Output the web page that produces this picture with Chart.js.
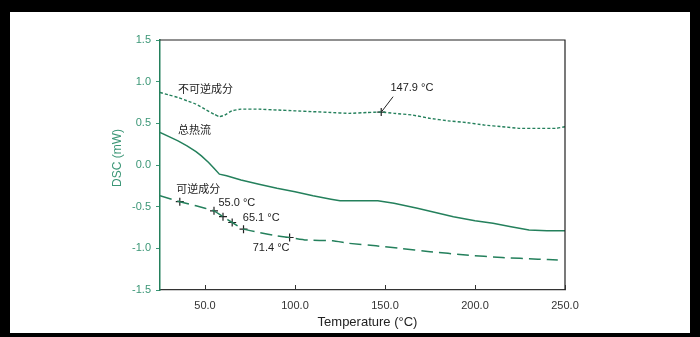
<!DOCTYPE html>
<html>
<head>
<meta charset="utf-8">
<script src="https://cdn.jsdelivr.net/npm/chart.js@4/dist/chart.umd.min.js"></script>
<style>
  body { margin: 0; background: #000; width: 700px; height: 337px; overflow: hidden; }
  #panel { position: absolute; left: 10px; top: 12px; width: 680px; height: 321px; background: #fff; }
</style>
</head>
<body>
<div id="panel"><canvas id="dsc" width="680" height="321"></canvas></div>
<script>
// Non-reversing component (short dashes)
const nonRevT = [25, 30, 35, 40, 45, 50, 55, 58, 61, 65, 70, 80, 90, 100, 110, 120, 130, 140, 147.9, 155, 165, 175, 185, 195, 205, 215, 225, 235, 245, 250];
const nonRevV = [0.87, 0.84, 0.81, 0.77, 0.73, 0.67, 0.61, 0.58, 0.60, 0.65, 0.67, 0.67, 0.66, 0.65, 0.64, 0.63, 0.62, 0.63, 0.635, 0.62, 0.60, 0.56, 0.53, 0.51, 0.48, 0.46, 0.44, 0.44, 0.44, 0.46];

// Total heat flow (solid)
const totalT = [25, 30, 35, 40, 45, 48, 52, 55, 58, 62, 70, 80, 90, 100, 110, 120, 125, 146, 155, 168, 178, 188, 200, 210, 220, 230, 240, 250];
const totalV = [0.39, 0.34, 0.29, 0.23, 0.16, 0.11, 0.03, -0.04, -0.11, -0.13, -0.18, -0.23, -0.28, -0.32, -0.37, -0.41, -0.43, -0.43, -0.46, -0.52, -0.57, -0.62, -0.67, -0.70, -0.74, -0.78, -0.79, -0.79];

// Reversing component (long dashes)
const revT = [25, 36, 45, 55, 60, 65.1, 71.4, 80, 90, 97, 106, 121, 130, 145, 158, 175, 195, 215, 235, 246];
const revV = [-0.37, -0.44, -0.49, -0.55, -0.62, -0.69, -0.77, -0.81, -0.85, -0.87, -0.90, -0.91, -0.94, -0.97, -1.00, -1.04, -1.08, -1.11, -1.13, -1.14];

// Marked points (+)
const markT = [36, 55, 60, 65.1, 71.4, 97, 147.9];
const markV = [-0.44, -0.55, -0.62, -0.69, -0.77, -0.87, 0.635];

// Text notes, anchored in data units (left edge, middle)
const noteTexts = ['不可逆成分', '总热流', '可逆成分', '55.0 °C', '65.1 °C', '71.4 °C', '147.9 °C'];
const noteT = [35, 35, 34, 57.5, 71, 76.5, 153];
const noteV = [0.92, 0.42, -0.28, -0.45, -0.64, -0.99, 0.92];

const xTicks = [50, 100, 150, 200, 250];
const yTicks = [-1.5, -1.0, -0.5, 0.0, 0.5, 1.0, 1.5];

const green = '#24805c';
const labelGreen = '#3b9676';

function pts(t, v) {
    return t.map((x, i) => ({ x: x, y: v[i] }));
}

const frame = {
    id: 'frame',
    afterDatasetsDraw(chart) {
        const c = chart.ctx;
        const a = chart.chartArea;
        const xs = chart.scales.x;
        const ys = chart.scales.y;
        c.save();
        // top and right border
        c.strokeStyle = '#222';
        c.lineWidth = 1.2;
        c.beginPath();
        c.moveTo(a.left, a.top);
        c.lineTo(a.right, a.top);
        c.lineTo(a.right, a.bottom);
        c.stroke();
        // inward x ticks
        c.strokeStyle = '#333';
        c.lineWidth = 1;
        xTicks.forEach(v => {
            const px = Math.round(xs.getPixelForValue(v)) + 0.5;
            c.beginPath();
            c.moveTo(px, a.bottom);
            c.lineTo(px, a.bottom - 5);
            c.stroke();
        });
        // notes
        c.fillStyle = '#222';
        c.textBaseline = 'middle';
        c.textAlign = 'left';
        noteTexts.forEach((t, i) => {
            const cjk = /[\u4e00-\u9fff]/.test(t);
            c.font = cjk ? '11px "Noto Sans CJK SC"' : '11px "Liberation Sans", Arial';
            c.fillText(t, xs.getPixelForValue(noteT[i]), ys.getPixelForValue(noteV[i]));
        });
        // arrow line to 147.9
        c.strokeStyle = '#222';
        c.beginPath();
        c.moveTo(xs.getPixelForValue(154.5), ys.getPixelForValue(0.82));
        c.lineTo(xs.getPixelForValue(148.3), ys.getPixelForValue(0.645));
        c.stroke();
        // axis titles
        c.font = '13px "Liberation Sans", Arial';
        c.textAlign = 'center';
        c.fillStyle = '#222';
        c.fillText('Temperature (°C)', (a.left + a.right) / 2 + 5, a.bottom + 32);
        c.translate(108, (a.top + a.bottom) / 2 - 7);
        c.rotate(-Math.PI / 2);
        c.font = '12px "Liberation Sans", Arial';
        c.fillStyle = labelGreen;
        c.fillText('DSC (mW)', 0, 0);
        c.restore();
    }
};

const ctx = document.getElementById('dsc').getContext('2d');
new Chart(ctx, {
    type: 'line',
    data: {
        datasets: [
            {
                label: '不可逆成分',
                data: pts(nonRevT, nonRevV),
                borderColor: green,
                borderWidth: 1.4,
                borderDash: [3, 2],
                pointRadius: 0,
                tension: 0.15,
            },
            {
                label: '总热流',
                data: pts(totalT, totalV),
                borderColor: green,
                borderWidth: 1.5,
                pointRadius: 0,
                tension: 0,
            },
            {
                label: '可逆成分',
                data: pts(revT, revV),
                borderColor: green,
                borderWidth: 1.5,
                borderDash: [12, 6],
                pointRadius: 0,
                tension: 0.1,
            },
            {
                label: 'marks',
                data: pts(markT, markV),
                showLine: false,
                pointStyle: 'cross',
                pointRadius: 4,
                pointBorderWidth: 1.2,
                pointBorderColor: '#222',
            },
        ],
    },
    options: {
        responsive: false,
        animation: false,
        layout: { padding: { top: 28, right: 125, left: 0, bottom: 0 } },
        plugins: {
            legend: { display: false },
            tooltip: { enabled: false },
        },
        scales: {
            x: {
                type: 'linear',
                min: 25,
                max: 250,
                afterBuildTicks: s => { s.ticks = xTicks.map(v => ({ value: v })); },
                afterFit: s => { s.height = 43; },
                grid: { display: false },
                border: { display: true, color: '#333', width: 1.2 },
                ticks: {
                    color: '#333',
                    padding: 1,
                    font: { family: '"Liberation Sans", Arial', size: 11 },
                    callback: v => v.toFixed(1),
                    maxRotation: 0,
                },
            },
            y: {
                min: -1.5,
                max: 1.5,
                afterBuildTicks: s => { s.ticks = yTicks.map(v => ({ value: v })); },
                afterFit: s => { s.width = 150; },
                grid: { drawOnChartArea: false, tickLength: 4, color: labelGreen },
                border: { display: true, color: green, width: 1.5 },
                ticks: {
                    color: labelGreen,
                    padding: 5,
                    font: { family: '"Liberation Sans", Arial', size: 11 },
                    callback: v => v.toFixed(1),
                },
            },
        },
    },
    plugins: [frame],
});
</script>
</body>
</html>
